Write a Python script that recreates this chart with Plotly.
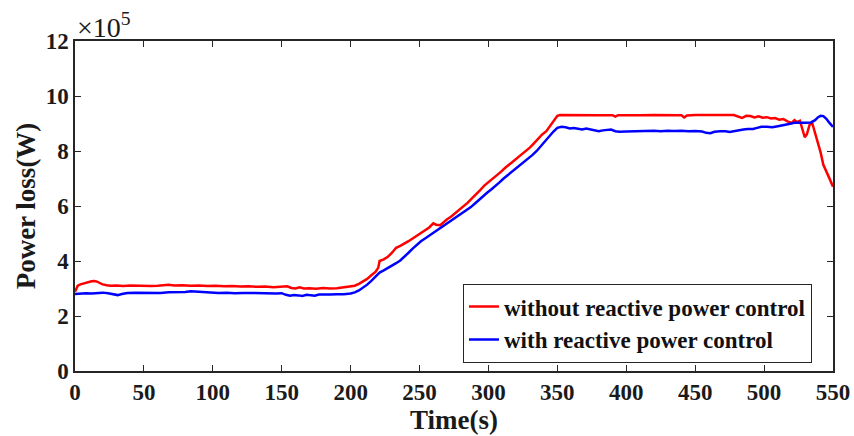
import plotly.graph_objects as go

# Time (s) and power loss (x1e5 W) without reactive power control
t_without = [0, 2, 4, 6, 8, 10, 12, 14, 16, 18, 20, 23, 26, 30, 35, 40, 45, 50, 55, 60, 65, 68,
             72, 78, 84, 90, 96, 102, 108, 114, 120, 126, 132, 138, 144, 150, 154, 157, 160, 163,
             166, 170, 175, 180, 185, 190, 195, 200, 203, 206, 209, 212, 215, 218, 220, 221, 224,
             227, 230, 233, 236, 239, 242, 245, 248, 251, 254, 257, 260, 262, 265, 267, 270, 273,
             276, 279, 282, 285, 288, 291, 294, 297, 300, 303, 306, 309, 312, 315, 318, 321, 324,
             327, 330, 333, 336, 339, 342, 345, 348, 350, 352, 360, 370, 380, 390, 392, 394, 400,
             410, 420, 430, 440, 442, 444, 450, 460, 470, 478, 481, 484, 487, 490, 493, 496, 499,
             502, 505, 508, 511, 514, 517, 520, 522, 524, 526, 528, 529.5, 531, 533, 535, 537,
             539, 541, 543, 545, 547, 550]
p_without = [2.88, 3.10, 3.15, 3.18, 3.20, 3.22, 3.26, 3.27, 3.25, 3.20, 3.15, 3.12, 3.10, 3.11,
             3.09, 3.11, 3.10, 3.11, 3.09, 3.10, 3.12, 3.14, 3.11, 3.12, 3.10, 3.11, 3.09, 3.10,
             3.08, 3.09, 3.07, 3.08, 3.06, 3.07, 3.05, 3.06, 3.08, 3.02, 3.00, 3.04, 3.00, 3.01,
             2.99, 3.02, 3.00, 3.01, 3.04, 3.07, 3.10, 3.17, 3.25, 3.35, 3.48, 3.60, 3.75, 4.00,
             4.06, 4.15, 4.30, 4.48, 4.55, 4.62, 4.72, 4.82, 4.92, 5.02, 5.12, 5.22, 5.37, 5.32,
             5.30, 5.40, 5.52, 5.62, 5.74, 5.86, 6.00, 6.12, 6.28, 6.45, 6.58, 6.74, 6.86, 6.98,
             7.10, 7.24, 7.38, 7.50, 7.64, 7.76, 7.88, 7.98, 8.12, 8.28, 8.45, 8.60, 8.72, 8.92,
             9.12, 9.28, 9.31, 9.30, 9.31, 9.30, 9.30, 9.25, 9.30, 9.31, 9.30, 9.31, 9.31, 9.30,
             9.22, 9.29, 9.31, 9.30, 9.31, 9.31, 9.24, 9.20, 9.28, 9.27, 9.22, 9.26, 9.21, 9.23,
             9.18, 9.20, 9.14, 9.16, 9.08, 9.02, 9.12, 9.05, 9.10, 8.75, 8.50, 8.60, 8.95, 9.00,
             8.65, 8.30, 7.95, 7.50, 7.25, 7.05, 6.70]

# Time (s) and power loss (x1e5 W) with reactive power control
t_with = [0, 4, 8, 12, 16, 20, 24, 28, 31, 34, 38, 44, 50, 56, 62, 68, 74, 80, 84, 88, 92, 98,
          104, 110, 116, 122, 128, 134, 140, 146, 150, 153, 156, 159, 162, 165, 168, 171, 174,
          177, 180, 185, 190, 195, 200, 203, 206, 209, 212, 215, 218, 221, 224, 227, 230, 233,
          236, 239, 242, 245, 248, 251, 254, 257, 260, 263, 266, 269, 272, 275, 278, 281, 284,
          287, 290, 293, 296, 299, 302, 305, 308, 311, 314, 317, 320, 323, 326, 329, 332, 335,
          338, 341, 344, 347, 350, 353, 356, 359, 362, 365, 368, 371, 374, 377, 380, 383, 386,
          389, 392, 395, 400, 405, 410, 415, 420, 425, 430, 435, 440, 445, 450, 455, 458, 461,
          464, 468, 472, 475, 478, 481, 485, 488, 492, 495, 498, 502, 506, 510, 514, 518, 522,
          526, 530, 534, 537, 539, 541, 543, 545, 547, 550]
p_with = [2.80, 2.82, 2.83, 2.82, 2.84, 2.85, 2.83, 2.78, 2.76, 2.80, 2.84, 2.85, 2.84, 2.85,
          2.84, 2.86, 2.86, 2.87, 2.90, 2.89, 2.86, 2.85, 2.84, 2.85, 2.83, 2.84, 2.83, 2.84,
          2.83, 2.82, 2.83, 2.77, 2.74, 2.76, 2.75, 2.73, 2.77, 2.75, 2.74, 2.78, 2.79, 2.78,
          2.79, 2.79, 2.82, 2.86, 2.93, 3.02, 3.14, 3.28, 3.45, 3.58, 3.66, 3.74, 3.83, 3.92,
          4.02, 4.15, 4.30, 4.45, 4.60, 4.72, 4.82, 4.92, 5.02, 5.14, 5.22, 5.32, 5.42, 5.52,
          5.62, 5.72, 5.82, 5.95, 6.08, 6.22, 6.35, 6.48, 6.60, 6.72, 6.86, 7.00, 7.12, 7.26,
          7.38, 7.50, 7.62, 7.74, 7.86, 8.00, 8.18, 8.38, 8.55, 8.70, 8.84, 8.88, 8.86, 8.82,
          8.84, 8.80, 8.78, 8.82, 8.78, 8.74, 8.72, 8.75, 8.76, 8.78, 8.72, 8.70, 8.71, 8.72,
          8.71, 8.73, 8.74, 8.72, 8.74, 8.73, 8.74, 8.72, 8.73, 8.71, 8.66, 8.65, 8.70, 8.72,
          8.72, 8.69, 8.72, 8.76, 8.78, 8.80, 8.80, 8.84, 8.88, 8.88, 8.86, 8.90, 8.93, 8.98,
          9.03, 9.02, 9.03, 9.04, 9.12, 9.22, 9.28, 9.27, 9.18, 9.05, 8.88]

x_ticks = [0, 50, 100, 150, 200, 250, 300, 350, 400, 450, 500, 550]
y_ticks = [0, 2, 4, 6, 8, 10, 12]

SERIF = "Liberation Serif, Times New Roman, serif"
AXIS_COLOR = "#262626"
TEXT_COLOR = "#1a1a1a"

fig = go.Figure()
fig.add_trace(go.Scatter(x=t_without, y=p_without, mode="lines",
                         name="<b>without reactive power control</b>",
                         line=dict(color="#ff0000", width=2.5)))
fig.add_trace(go.Scatter(x=t_with, y=p_with, mode="lines",
                         name="<b>with reactive power control</b>",
                         line=dict(color="#0000ff", width=2.5)))

axis_common = dict(showgrid=False, zeroline=False, showline=True, linecolor=AXIS_COLOR,
                   linewidth=1.5, mirror="ticks", ticks="inside", ticklen=6,
                   tickwidth=1.2, tickcolor=AXIS_COLOR, automargin=False,
                   tickfont=dict(family=SERIF, size=23, color=TEXT_COLOR, weight="bold"))

fig.update_xaxes(range=[0, 550], tickvals=x_ticks, ticktext=[str(v) for v in x_ticks],
                 title=dict(text="<b>Time(s)</b>", font=dict(family=SERIF, size=27, color=TEXT_COLOR),
                            standoff=5),
                 **axis_common)
fig.update_yaxes(range=[0, 12], tickvals=y_ticks, ticktext=[str(v) for v in y_ticks],
                 title=dict(text="<b>Power loss(W)</b>", font=dict(family=SERIF, size=27, color=TEXT_COLOR),
                            standoff=2),
                 **axis_common)

# Axis multiplier label above the top-left corner
fig.add_annotation(text="\u00d710<sup>5</sup>", xref="paper", yref="paper", x=0.0, y=1.0,
                   xanchor="left", yanchor="bottom", showarrow=False, yshift=-4, xshift=0,
                   font=dict(family=SERIF, size=28, color=TEXT_COLOR))

fig.update_layout(
    width=854, height=436,
    margin=dict(l=75, r=21, t=41, b=65),
    paper_bgcolor="white", plot_bgcolor="white",
    showlegend=True,
    legend=dict(x=0.972, y=0.264, xanchor="right", yanchor="top",
                bgcolor="white", bordercolor=AXIS_COLOR, borderwidth=1.2,
                font=dict(family=SERIF, size=23, color="#111111"),
                tracegroupgap=0, itemwidth=30),
)

fig.write_html("out.html")
